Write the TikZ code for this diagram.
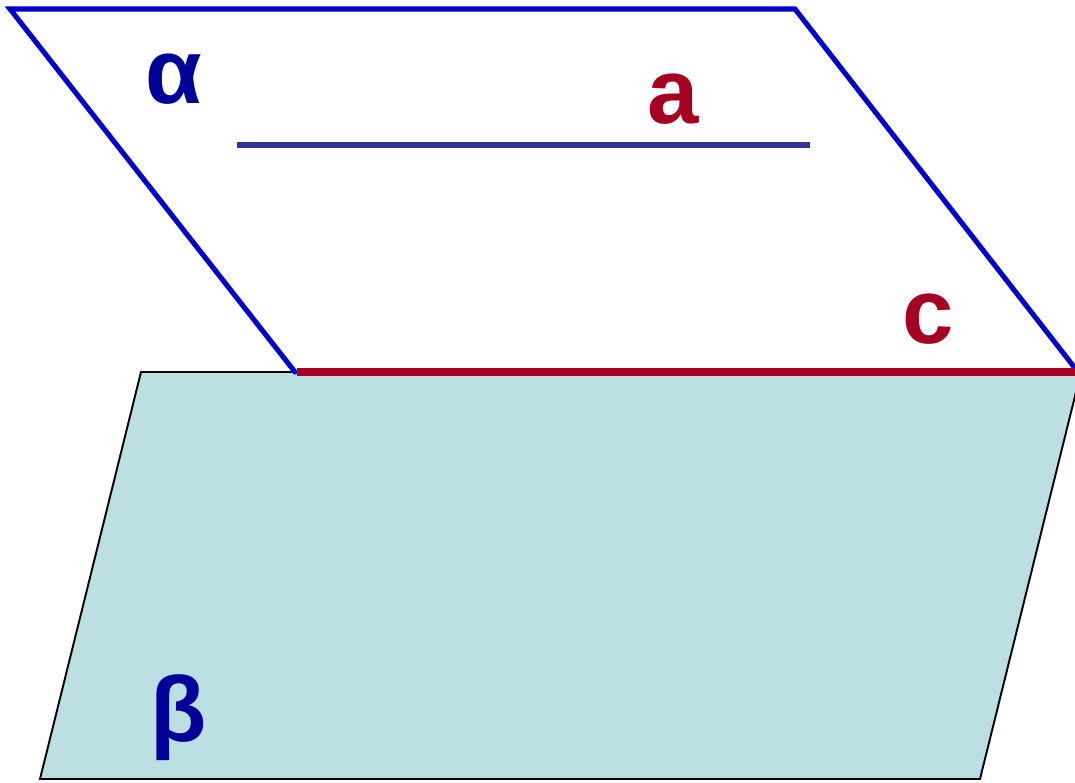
\documentclass[tikz,border=0pt]{standalone}
\usepackage{fontspec}
\setmainfont{Liberation Sans}
\definecolor{planeblue}{HTML}{0000CC}
\definecolor{linea}{HTML}{333399}
\definecolor{darkred}{HTML}{A50021}
\definecolor{labelblue}{HTML}{000099}
\definecolor{betafill}{HTML}{BBDFE3}
\begin{document}
\begin{tikzpicture}[x=0.02cm,y=-0.02cm,
  lbl/.style={font=\fontsize{52.5}{56}\selectfont\bfseries, inner sep=0pt},
  alphaedge/.style={draw=planeblue, line width=2.9pt, line cap=round},
  betaedge/.style={draw=black, line width=1.1pt, fill=betafill, line join=miter}]
\useasboundingbox (0,0) rectangle (1075,782);
\clip (0,0) rectangle (1075,782);
% plane beta
\coordinate (b1) at (141,372);
\coordinate (b2) at (1081,372);
\coordinate (b3) at (980,779);
\coordinate (b4) at (40,779);
\path[betaedge] (b1) -- (b2) -- (b3) -- (b4) -- cycle;
% plane alpha
\coordinate (a1) at (10,9);
\coordinate (a2) at (795,9);
\coordinate (a3) at (1078,372);
\coordinate (a4) at (295,372);
\draw[alphaedge] (a4) -- (a1) -- (a2) -- (a3);
% line c
\coordinate (c1) at (297,372);
\coordinate (c2) at (1080,372);
\draw[darkred, line width=4.3pt] (c1) -- (c2);
% line a
\coordinate (la1) at (237,145);
\coordinate (la2) at (810,145);
\draw[linea, line width=2.9pt] (la1) -- (la2);
% labels
\node[lbl, text=labelblue] (alpha) at (174,79) {α};
\node[lbl, text=darkred] (la) at (673,99) {a};
\node[lbl, text=darkred] (lc) at (928,319) {c};
\node[lbl, text=labelblue] (beta) at (179,718) {β};
\end{tikzpicture}
\end{document}
